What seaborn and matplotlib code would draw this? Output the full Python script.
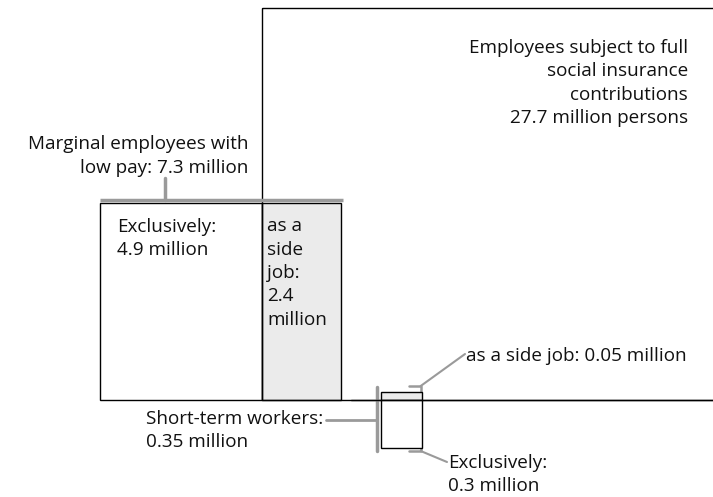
import matplotlib
matplotlib.use("Agg")
import matplotlib.pyplot as plt
from matplotlib.patches import Rectangle
import seaborn as sns

# ---- data (million persons) ----
full_insurance = 27.7
marginal_values = [4.9, 2.4]          # exclusively, as a side job
short_term_values = [0.3, 0.05]       # exclusively, as a side job
marginal_total = 7.3
short_term_total = 0.35

sns.set_theme(style="white")
plt.rcParams['font.family'] = ['Open Sans', 'DejaVu Sans']

# ---- layout (pixel space) ----
K = 6510.0            # px^2 per million persons
BASE = 400            # baseline y
FULL_H = 392
MARG_H = 197
SHORT_H = 56
MARG_LEFT = 100
SHORT_LEFT = 381
GREY_FILL = "#ebebeb"
BRACKET = "#9a9a9a"
FS = 13.6

fig = plt.figure(figsize=(7.13, 4.97), dpi=100)
ax = fig.add_axes([0, 0, 1, 1])
ax.set_xlim(0, 713)
ax.set_ylim(497, 0)
ax.axis("off")

# marginal employees block
w_excl = marginal_values[0] * K / MARG_H
w_side = marginal_values[1] * K / MARG_H
split = MARG_LEFT + w_excl
ax.add_patch(Rectangle((MARG_LEFT, BASE - MARG_H), w_excl, MARG_H, fc="white", ec="black", lw=1))
ax.add_patch(Rectangle((split, BASE - MARG_H), w_side, MARG_H, fc=GREY_FILL, ec="black", lw=1))

# full insurance block (open to the right)
full_w = full_insurance * K / FULL_H
ax.add_patch(Rectangle((split, BASE - FULL_H), full_w, FULL_H, fc="none", ec="black", lw=1, clip_on=True))

# short-term workers block
st_w = short_term_total * K / SHORT_H
st_side_h = short_term_values[1] * K / st_w
st_excl_h = short_term_values[0] * K / st_w
st_top = BASE - st_side_h
ax.add_patch(Rectangle((SHORT_LEFT, st_top), st_w, st_side_h, fc=GREY_FILL, ec="black", lw=1, zorder=3))
ax.add_patch(Rectangle((SHORT_LEFT, BASE), st_w, st_excl_h, fc="white", ec="black", lw=1, zorder=3))
ax.plot([SHORT_LEFT - 30, 713], [BASE, BASE], color="black", lw=1, zorder=4)

# brackets
marg_right = split + w_side
ax.plot([MARG_LEFT, marg_right + 2], [BASE - MARG_H - 3] * 2, color=BRACKET, lw=2.5, solid_capstyle="butt")
ax.plot([165, 165], [BASE - MARG_H - 3, 178], color=BRACKET, lw=2.5)

st_bottom = BASE + st_excl_h
ax.plot([SHORT_LEFT - 4] * 2, [st_top - 5, st_bottom + 3], color=BRACKET, lw=2.5)
ax.plot([326, SHORT_LEFT - 4], [420, 420], color=BRACKET, lw=2)

rx = SHORT_LEFT + st_w - 1
ax.plot([rx - 12, rx, rx], [st_top - 6, st_top - 6, st_top + 2], color=BRACKET, lw=1.8)
ax.plot([rx, 465], [st_top - 6, 354], color=BRACKET, lw=1.5)
ax.plot([rx - 12, rx, rx], [st_bottom + 3, st_bottom + 3, st_bottom - 5], color=BRACKET, lw=1.8)
ax.plot([rx, 447], [st_bottom + 3, 462], color=BRACKET, lw=1.5)

# labels
txt = dict(fontsize=FS, color="#111111", linespacing=1.38)
ax.text(688, 83, "Employees subject to full\nsocial insurance\ncontributions\n"
        f"{full_insurance} million persons", ha="right", va="center", multialignment="right", **txt)
ax.text(248, 156, f"Marginal employees with\nlow pay: {marginal_total} million",
        ha="right", va="center", multialignment="right", **txt)
ax.text(MARG_LEFT + 17, 238.5, f"Exclusively:\n{marginal_values[0]} million", ha="left", va="center", **txt)
ax.text(split + 5, 273, f"as a\nside\njob:\n{marginal_values[1]}\nmillion", ha="left", va="center", **txt)
ax.text(146, 430.5, f"Short-term workers:\n{short_term_total} million", ha="left", va="center", **txt)
ax.text(466, 356, f"as a side job: {short_term_values[1]} million", ha="left", va="center", **txt)
ax.text(448, 474.5, f"Exclusively:\n{short_term_values[0]} million", ha="left", va="center", **txt)

fig.savefig("out.png", dpi=100)
